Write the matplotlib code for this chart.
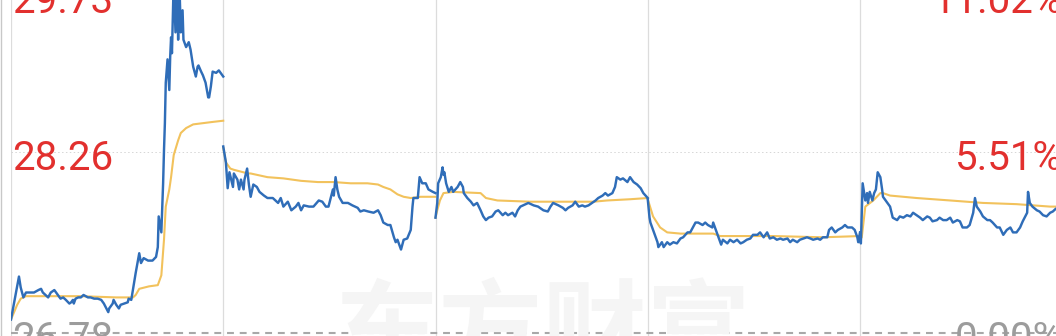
import matplotlib.pyplot as plt
from matplotlib.lines import Line2D

# ---------------------------------------------------------------
# Chart data : five trading days, minute of day -> price
# ---------------------------------------------------------------

prev_close = 26.78
top_price = 29.73
mid_price = 28.26

left_labels = ["29.73", "28.26", "26.78"]
right_labels = ["11.02%", "5.51%", "0.00%"]
watermark = "东方财富"

d1_t = [0, 9, 11, 14, 17, 23, 26, 31, 34, 36, 42, 45, 49, 51, 53, 56, 59, 62, 66, 68,
        70, 71, 73, 76, 79, 82, 87, 90, 94, 98, 102, 105, 110, 111, 115, 116, 119, 122, 124, 128,
        132, 133, 136, 141, 145, 147, 150, 155, 160, 164, 166, 167, 170, 172, 173, 174, 175, 177, 179, 180,
        181, 182, 183, 184, 186, 188, 189, 190, 192, 194, 195, 198, 201, 203, 206, 209, 211, 212, 215, 217,
        220, 223, 224, 226, 228, 232, 235, 240]
d1_p = [26.89, 27.24, 27.15, 27.07, 27.11, 27.11, 27.11, 27.13, 27.14, 27.11,
        27.07, 27.11, 27.13, 27.11, 27.09, 27.06, 27.07, 27.05, 27.02, 27.03,
        27.05, 27.02, 27.06, 27.07, 27.07, 27.09, 27.07, 27.07, 27.06, 27.06,
        27.05, 27.02, 26.95, 26.98, 27.02, 27.05, 27.01, 26.98, 27.01, 27.02,
        27.03, 27.06, 27.05, 27.27, 27.43, 27.35, 27.39, 27.37, 27.37, 27.40,
        27.48, 27.73, 27.60, 28.00, 28.27, 28.49, 28.82, 29.01, 28.76, 29.03,
        29.19, 29.06, 29.36, 29.66, 29.23, 29.57, 29.17, 29.73, 29.23, 29.41,
        29.17, 29.11, 29.15, 29.09, 28.95, 28.87, 28.95, 28.96, 28.91, 28.88,
        28.82, 28.70, 28.70, 28.79, 28.91, 28.90, 28.92, 28.87]
d1_avg_t = [0, 7, 11, 17, 45, 79, 119, 138, 141, 145, 156, 166, 170, 173, 175, 179,
            181, 184, 189, 192, 198, 206, 217, 228, 240]
d1_avg = [26.89, 27.01, 27.06, 27.08, 27.08, 27.08, 27.07, 27.07, 27.09, 27.14, 27.16,
          27.17, 27.25, 27.54, 27.81, 27.95, 28.05, 28.23, 28.35, 28.41, 28.45, 28.48,
          28.49, 28.50, 28.51]

d2_t = [0, 3, 5, 7, 11, 12, 16, 18, 20, 23, 24, 27, 29, 31, 34, 38, 41, 46, 50, 56,
        62, 65, 68, 73, 77, 82, 85, 88, 91, 97, 102, 108, 112, 116, 119, 124, 125, 127, 129, 131,
        135, 141, 146, 152, 155, 159, 164, 170, 175, 178, 181, 186, 189, 193, 195, 197, 201, 204, 208, 212,
        214, 215, 220, 222, 225, 229, 232, 237, 240]
d2_p = [28.30, 28.17, 27.96, 28.09, 27.97, 28.08, 28.03, 27.95, 28.03, 27.95,
        28.03, 28.12, 27.99, 27.89, 27.99, 27.97, 27.93, 27.90, 27.88, 27.88,
        27.84, 27.88, 27.81, 27.85, 27.78, 27.81, 27.84, 27.78, 27.82, 27.81,
        27.81, 27.86, 27.85, 27.81, 27.81, 27.95, 27.90, 28.05, 27.95, 27.89,
        27.84, 27.84, 27.82, 27.80, 27.77, 27.78, 27.77, 27.76, 27.78, 27.74,
        27.68, 27.66, 27.66, 27.56, 27.52, 27.54, 27.46, 27.54, 27.55, 27.62,
        27.81, 27.88, 27.88, 28.05, 28.00, 28.00, 27.95, 27.93, 27.92]
d2_avg_t = [0, 3, 8, 12, 28, 31, 50, 68, 88, 107, 125, 144, 163, 175, 181, 189, 197,
            204, 212, 223, 240]
d2_avg = [28.29, 28.17, 28.12, 28.11, 28.08, 28.08, 28.05, 28.04, 28.02, 28.01, 28.01,
          28.00, 28.00, 27.99, 27.97, 27.95, 27.91, 27.89, 27.88, 27.89, 27.89]

d3_t = [0, 2, 3, 6, 8, 9, 10, 12, 15, 18, 20, 25, 28, 31, 32, 36, 40, 43, 47, 51,
        54, 57, 60, 64, 68, 71, 76, 79, 82, 87, 90, 93, 96, 99, 105, 111, 116, 122, 127, 130,
        133, 139, 144, 147, 150, 155, 158, 162, 166, 169, 173, 177, 181, 184, 189, 192, 195, 200, 203, 205,
        209, 212, 217, 220, 224, 228, 232, 235, 240]
d3_p = [27.72, 27.84, 28.00, 28.05, 28.13, 28.07, 28.09, 28.00, 27.93, 27.97,
        27.93, 27.97, 28.01, 27.97, 27.92, 27.88, 27.85, 27.82, 27.84, 27.78,
        27.73, 27.70, 27.72, 27.73, 27.77, 27.78, 27.74, 27.76, 27.74, 27.76,
        27.73, 27.78, 27.81, 27.82, 27.84, 27.82, 27.81, 27.78, 27.77, 27.81,
        27.84, 27.82, 27.80, 27.78, 27.80, 27.82, 27.85, 27.81, 27.82, 27.81,
        27.82, 27.84, 27.86, 27.88, 27.90, 27.92, 27.90, 27.92, 27.97, 28.05,
        28.03, 28.04, 28.01, 28.05, 28.01, 27.99, 27.96, 27.92, 27.88]
d3_avg_t = [0, 2, 5, 9, 20, 51, 57, 70, 107, 145, 179, 194, 220, 240]
d3_avg = [27.72, 27.78, 27.86, 27.92, 27.93, 27.92, 27.88, 27.86, 27.85, 27.85, 27.85,
          27.86, 27.87, 27.88]

d4_t = [0, 2, 3, 6, 11, 12, 16, 18, 22, 25, 29, 33, 37, 40, 45, 48, 51, 54, 57, 62,
        65, 68, 73, 74, 77, 80, 83, 85, 90, 93, 97, 101, 105, 108, 112, 116, 119, 124, 127, 131,
        135, 138, 142, 146, 150, 153, 158, 161, 164, 169, 172, 176, 180, 184, 187, 192, 195, 198, 203, 205,
        208, 212, 215, 220, 223, 226, 231, 234, 237, 238, 240]
d4_p = [27.87, 27.72, 27.68, 27.62, 27.52, 27.48, 27.52, 27.48, 27.52, 27.50,
        27.52, 27.51, 27.55, 27.56, 27.60, 27.60, 27.64, 27.68, 27.68, 27.66,
        27.68, 27.66, 27.64, 27.68, 27.62, 27.56, 27.50, 27.54, 27.51, 27.54,
        27.52, 27.54, 27.51, 27.52, 27.54, 27.55, 27.58, 27.58, 27.60, 27.56,
        27.60, 27.55, 27.56, 27.54, 27.55, 27.54, 27.55, 27.52, 27.54, 27.52,
        27.54, 27.55, 27.56, 27.55, 27.54, 27.55, 27.54, 27.56, 27.56, 27.62,
        27.64, 27.60, 27.62, 27.64, 27.66, 27.64, 27.64, 27.62, 27.56, 27.52, 27.60]
d4_avg_t = [0, 3, 6, 14, 22, 37, 74, 82, 142, 198, 240]
d4_avg = [27.87, 27.80, 27.73, 27.64, 27.60, 27.59, 27.59, 27.57, 27.57, 27.56, 27.57]

d5_t = [0, 1, 3, 6, 8, 9, 11, 14, 16, 18, 20, 23, 25, 26, 31, 34, 37, 42, 45, 49,
        53, 57, 60, 64, 68, 71, 76, 79, 82, 87, 90, 94, 98, 102, 105, 110, 113, 116, 121, 124,
        128, 130, 132, 136, 139, 144, 147, 150, 155, 158, 162, 166, 170, 173, 177, 181, 184, 189, 190, 192,
        195, 200, 203, 207, 211, 215, 218, 221]
d5_p = [27.54, 27.51, 28.00, 27.86, 27.92, 27.84, 27.93, 27.86, 27.92, 27.95,
        28.09, 28.05, 27.95, 27.89, 27.84, 27.81, 27.72, 27.70, 27.73, 27.72,
        27.74, 27.73, 27.76, 27.74, 27.72, 27.70, 27.73, 27.72, 27.69, 27.70,
        27.72, 27.70, 27.70, 27.72, 27.68, 27.70, 27.69, 27.64, 27.64, 27.66,
        27.76, 27.88, 27.81, 27.77, 27.73, 27.70, 27.70, 27.68, 27.64, 27.64,
        27.58, 27.62, 27.64, 27.60, 27.60, 27.64, 27.69, 27.76, 27.93, 27.84,
        27.81, 27.78, 27.77, 27.74, 27.73, 27.76, 27.77, 27.79]
d5_avg_t = [0, 2, 6, 15, 23, 26, 34, 64, 102, 139, 177, 215, 221]
d5_avg = [27.54, 27.56, 27.81, 27.86, 27.92, 27.92, 27.90, 27.88, 27.86, 27.84, 27.83,
          27.81, 27.81]

BLUE = "#2f6db8"
YELLOW = "#f2c25c"
RED = "#e2302e"
GRAY = "#9c9c9c"

W, H = 1056, 336


# ---------------------------------------------------------------
# Function Name : fig_xy()
# Description   : Pixel position -> figure fraction
# ---------------------------------------------------------------

def fig_xy(x, y):
    return x / W, 1 - y / H


# ---------------------------------------------------------------
# Function Name : create_chart()
# Description   : Draws the five day minute chart
# ---------------------------------------------------------------

def create_chart():
    fig = plt.figure(figsize=(W / 100, H / 100), dpi=100)
    fig.patch.set_facecolor("white")

    # watermark behind everything
    fig.text(*fig_xy(543, 336), watermark, family=["Noto Sans CJK SC", "DejaVu Sans"],
             weight="bold", fontsize=75, color="#f5f5f5", ha="center", va="center", zorder=0)

    # axes: symmetric range around previous close, lower half below the picture
    left_px, right_px = 11, 1072.25
    top_px, zero_px = -29, 333
    bottom_px = zero_px + (zero_px - top_px)
    ax = fig.add_axes([left_px / W, (H - bottom_px) / H,
                       (right_px - left_px) / W, (bottom_px - top_px) / H])
    ax.set_facecolor("none")
    ax.set_xlim(0, 5)
    ax.set_ylim(prev_close - (top_price - prev_close), top_price)
    ax.axis("off")

    for d in range(0, 5):
        ax.axvline(d, color="#dcdcdc", lw=0.9, zorder=1)

    ax.axhline(mid_price - 0.005, color="#d6d6d6", lw=0.7, linestyle=(0, (1.5, 2.5)), zorder=1)
    ax.axhline(prev_close, color="#a8a8a8", lw=1.5, linestyle=(0, (3.3, 2.8)), zorder=1)

    days = [(d1_t, d1_p, d1_avg_t, d1_avg),
            (d2_t, d2_p, d2_avg_t, d2_avg),
            (d3_t, d3_p, d3_avg_t, d3_avg),
            (d4_t, d4_p, d4_avg_t, d4_avg),
            (d5_t, d5_p, d5_avg_t, d5_avg)]

    for d, (t, p, at, a) in enumerate(days):
        ax.plot([d + m / 240 for m in at], a, color=YELLOW, lw=1.5, zorder=3,
                solid_joinstyle="round")
        ax.plot([d + m / 240 for m in t], p, color=BLUE, lw=1.75, zorder=4,
                solid_joinstyle="round")

    # far left frame line
    fig.add_artist(Line2D([0.5 / W, 0.5 / W], [0, 1], color="#c8c8c8", lw=1))

    # price labels (left) and change labels (right)
    label_rows = [13, 170, 351]
    colors = [RED, RED, GRAY]
    for text, y, c in zip(left_labels, label_rows, colors):
        fig.text(*fig_xy(12, y), text, family="Roboto", fontsize=29, color=c,
                 ha="left", va="baseline", zorder=5)
    for text, y, c in zip(right_labels, label_rows, colors):
        fig.text(*fig_xy(1063, y), text, family="Roboto", fontsize=29, color=c,
                 ha="right", va="baseline", zorder=5)

    fig.savefig("out.png", dpi=100, facecolor="white")


# ---------------------------------------------------------------
# Application Starter
# ---------------------------------------------------------------
if __name__ == "__main__":
    create_chart()
